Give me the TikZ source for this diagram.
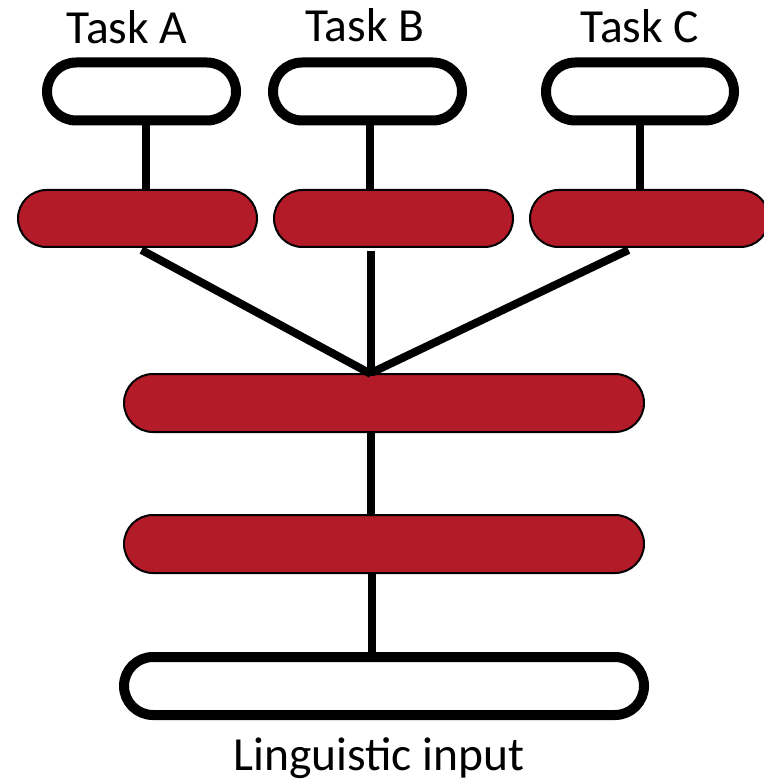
\documentclass[tikz,border=0pt]{standalone}
\usepackage{fontspec}
\setmainfont{Carlito}
\definecolor{layerred}{RGB}{179,27,41}

\begin{document}
\begin{tikzpicture}[x=1pt,y=-1pt]
\tikzset{
  io/.style={draw=black,line width=10pt,fill=white,rectangle,rounded corners=29pt,inner sep=0pt,minimum height=58pt},
  layer/.style={draw=black,line width=2pt,fill=layerred,rectangle,rounded corners=28.5pt,inner sep=0pt,minimum height=57pt},
  link/.style={line width=8pt,black},
  lbl/.style={anchor=base,inner sep=0pt,font=\fontsize{47.5}{56}\selectfont}
}
\useasboundingbox (0,0) rectangle (763,783);
\node[io,minimum width=189pt] (taskA) at (141.5,91.5) {};
\node[io,minimum width=189pt] (taskB) at (367.5,91.5) {};
\node[io,minimum width=188pt] (taskC) at (640,91.5) {};
\node[lbl] (labA) at (127,44) {Task A};
\node[lbl] (labB) at (365,42) {Task B};
\node[lbl] (labC) at (640,43) {Task C};
\node[layer,minimum width=239pt] (redA) at (137.5,218.5) {};
\node[layer,minimum width=239pt] (redB) at (393.5,218.5) {};
\node[layer,minimum width=239pt] (redC) at (649.5,218.5) {};
\node[layer,minimum width=520pt,minimum height=58pt,rounded corners=29pt] (mid) at (384,403) {};
\node[layer,minimum width=520pt,minimum height=58pt,rounded corners=29pt] (low) at (384,544) {};
\node[io,minimum width=520pt] (input) at (384,686) {};
\node[lbl] (labIn) at (379,770) {Linguistic input};
\coordinate (hub) at (371,377);
\draw[link] ([xshift=4pt]taskA.south) -- ([xshift=4pt]taskA.south |- redA.north);
\draw[link] ([xshift=2.5pt]taskB.south) -- ([xshift=2.5pt]taskB.south |- redB.north);
\draw[link] (taskC.south) -- (taskC.south |- redC.north);
\draw[link] ([xshift=4pt,yshift=-2pt]redA.south) -- ([yshift=3pt]hub);
\draw[link] ([yshift=-3pt]redB.south -| hub) -- ([yshift=-3pt]mid.north -| hub);
\draw[link] ([xshift=-21pt,yshift=-2pt]redC.south) -- ([xshift=2pt,yshift=5pt]hub);
\draw[link] (mid.south -| hub) -- (low.north -| hub);
\draw[link] ([xshift=1pt]low.south -| hub) -- ([xshift=1pt]input.north -| hub);
\end{tikzpicture}
\end{document}
